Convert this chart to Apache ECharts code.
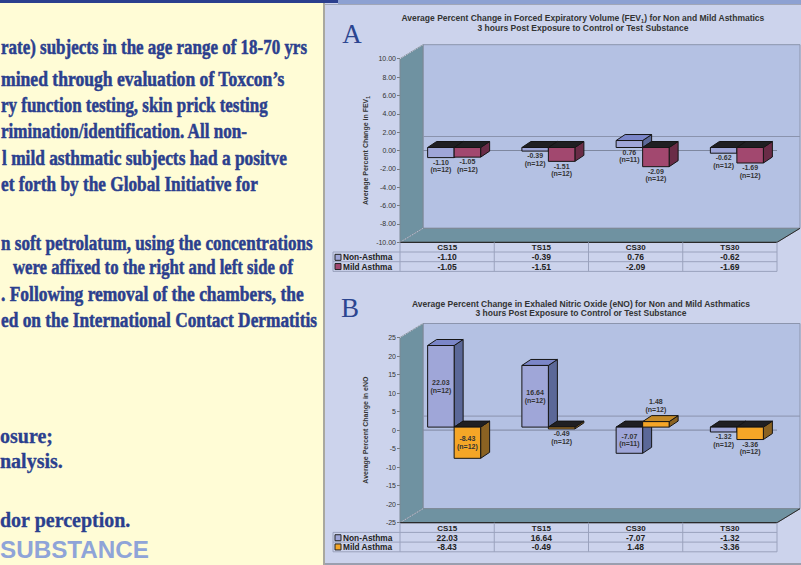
<!DOCTYPE html>
<html><head><meta charset="utf-8">
<script src="https://cdn.jsdelivr.net/npm/echarts@6/dist/echarts.min.js"></script>
<style>html,body{margin:0;padding:0;background:#fff;}#c{width:801px;height:565px;}</style>
</head><body><div id="c"></div>
<script>
// ---------------- DATA ----------------
const categories = ['CS15', 'TS15', 'CS30', 'TS30'];
const groupNames = ['Non-Asthma', 'Mild Asthma'];
const fevNonAsthma = [-1.10, -0.39, 0.76, -0.62];
const fevMildAsthma = [-1.05, -1.51, -2.09, -1.69];
const fevNonAsthmaN = [12, 12, 11, 12];
const fevMildAsthmaN = [12, 12, 12, 12];
const enoNonAsthma = [22.03, 16.64, -7.07, -1.32];
const enoMildAsthma = [-8.43, -0.49, 1.48, -3.36];
const enoNonAsthmaN = [12, 12, 11, 12];
const enoMildAsthmaN = [12, 12, 12, 12];
const fevTicks = { min: -10, max: 10, interval: 2 };
const enoTicks = { min: -25, max: 25, interval: 5 };
const fevTitle = ['Average Percent Change in Forced Expiratory Volume (FEV', '1', ') for Non and Mild Asthmatics'];
const enoTitle = 'Average Percent Change in Exhaled Nitric Oxide (eNO) for Non and Mild Asthmatics';
const subTitle = '3 hours Post Exposure to Control or Test Substance';
const fevAxisName = ['Average Percent Change in FEV', '1'];
const enoAxisName = 'Average Percent Change in eNO';
const posterLines = [
  'rate) subjects in the age range of 18-70 yrs',
  'mined through evaluation of Toxcon\u2019s',
  'ry function testing, skin prick testing',
  'rimination/identification. All non-',
  'l mild asthmatic subjects had a positve',
  'et forth by the Global Initiative for',
  'n soft petrolatum, using the concentrations',
  'were affixed to the right and left side of',
  '. Following removal of the chambers, the',
  'ed on the International Contact Dermatitis'
];
const posterLines2 = ['osure;', 'nalysis.', 'dor perception.'];
const posterHeading = 'SUBSTANCE';

// ---------------- STYLE ----------------
const SANS = "'Liberation Sans', Arial, sans-serif";
const SERIF = "'Liberation Serif', 'Times New Roman', serif";
const WALL_D = [23, -14];
const BAR_D = [9, -6];
const BAR_SHIFT = [7, -3];
const BAR_W = 26.5;
const TABLE_LEFT = 333;
const ROW_H = 9.7;
const DARK_TOP = '#1f1f22';
const COL_NON = { front: '#9fa6d8', side: '#5b6898', top: '#7b86c8' };
const COL_MILD_A = { front: '#a2486f', side: '#6a2c47', top: '#7b3552' };
const COL_MILD_B = { front: '#f5a627', side: '#8a6222', top: '#c48a27' };
const TEXT_BLUE = '#2b3f8e';
const TITLE_FS = 8.5;

const mctx = document.createElement('canvas').getContext('2d');
function measure(text, font) { mctx.font = font; return mctx.measureText(text).width; }

function frameItem(nonVals, mildVals, mildCol) {
  return function (params, api) {
    const cs = params.coordSys;
    const L = cs.x, T = cs.y, R = cs.x + cs.width, B = cs.y + cs.height;
    const dx = WALL_D[0], dy = WALL_D[1];
    const y0 = api.coord([0, 0])[1];
    const cw = cs.width / categories.length;
    const ch = [];
    ch.push({ type: 'rect', shape: { x: L + dx, y: T + dy, width: R - L, height: B - T }, style: { fill: '#b4c1e3', stroke: '#8c95ad', lineWidth: 1 } });
    ch.push({ type: 'polygon', shape: { points: [[L, T], [L + dx, T + dy], [L + dx, B + dy], [L, B]] }, style: { fill: '#6f92a1', stroke: '#7d8894', lineWidth: 1 } });
    ch.push({ type: 'polygon', shape: { points: [[L, B], [R, B], [R + dx, B + dy], [L + dx, B + dy]] }, style: { fill: '#6f92a1', stroke: '#7d8894', lineWidth: 1 } });
    ch.push({ type: 'line', shape: { x1: L, y1: T, x2: L + dx, y2: T + dy }, style: { stroke: '#d5dbea', lineWidth: 1, lineDash: [1, 1] } });
    ch.push({ type: 'line', shape: { x1: L, y1: B, x2: L + dx, y2: B + dy }, style: { stroke: '#c5cde0', lineWidth: 1, lineDash: [1, 1] } });
    ch.push({ type: 'line', shape: { x1: L + dx, y1: y0 + dy, x2: R + dx, y2: y0 + dy }, style: { stroke: '#8a93ad', lineWidth: 1 } });
    ch.push({ type: 'line', shape: { x1: L + dx, y1: y0, x2: R, y2: y0 }, style: { stroke: '#7e879f', lineWidth: 1 } });
    ch.push({ type: 'line', shape: { x1: L, y1: B, x2: R, y2: B }, style: { stroke: '#2a2a2a', lineWidth: 1.2 } });
    ch.push({ type: 'line', shape: { x1: R, y1: B, x2: R + dx, y2: B + dy }, style: { stroke: '#2a2a2a', lineWidth: 1 } });
    // data table
    const gridCol = '#9aa2bd';
    for (let r = 1; r <= 3; r++) {
      ch.push({ type: 'line', shape: { x1: TABLE_LEFT, y1: B + r * ROW_H, x2: R, y2: B + r * ROW_H }, style: { stroke: gridCol, lineWidth: 1 } });
    }
    ch.push({ type: 'line', shape: { x1: TABLE_LEFT, y1: B + ROW_H, x2: TABLE_LEFT, y2: B + 3 * ROW_H }, style: { stroke: gridCol, lineWidth: 1 } });
    for (let k = 0; k <= categories.length; k++) {
      ch.push({ type: 'line', shape: { x1: L + k * cw, y1: B, x2: L + k * cw, y2: B + 3 * ROW_H }, style: { stroke: gridCol, lineWidth: 1 } });
    }
    categories.forEach(function (c, i) {
      const cx = L + (i + 0.5) * cw;
      ch.push({ type: 'text', x: cx, y: B + ROW_H * 0.55, style: { text: c, font: 'bold 8px ' + SANS, fill: '#222', align: 'center', verticalAlign: 'middle' } });
      ch.push({ type: 'text', x: cx, y: B + ROW_H * 1.55, style: { text: nonVals[i].toFixed(2), font: 'bold 8.5px ' + SANS, fill: '#222', align: 'center', verticalAlign: 'middle' } });
      ch.push({ type: 'text', x: cx, y: B + ROW_H * 2.5, style: { text: mildVals[i].toFixed(2), font: 'bold 8.5px ' + SANS, fill: '#222', align: 'center', verticalAlign: 'middle' } });
    });
    [COL_NON, mildCol].forEach(function (col, r) {
      const yc = B + ROW_H * (1.55 + r * 0.95);
      ch.push({ type: 'rect', shape: { x: TABLE_LEFT + 2, y: yc - 3, width: 6, height: 6 }, style: { fill: col.front, stroke: '#222', lineWidth: 1 } });
      ch.push({ type: 'text', x: TABLE_LEFT + 10, y: yc, style: { text: groupNames[r], font: 'bold 8.3px ' + SANS, fill: '#222', align: 'left', verticalAlign: 'middle' } });
    });
    return { type: 'group', children: ch };
  };
}

function barItem(pos, cols, labelMode) {
  return function (params, api) {
    const ci = api.value(0), v = api.value(1), n = api.value(2);
    const pz = api.coord([ci, 0]), pv = api.coord([ci, v]);
    const x0 = pz[0] + BAR_SHIFT[0] + (pos === 0 ? -BAR_W : 0);
    const x1 = x0 + BAR_W;
    const yz = pz[1] + BAR_SHIFT[1], yv = pv[1] + BAR_SHIFT[1];
    const yt = Math.min(yz, yv), yb = Math.max(yz, yv);
    const bx = BAR_D[0], by = BAR_D[1];
    const ch = [
      { type: 'polygon', shape: { points: [[x1, yt], [x1 + bx, yt + by], [x1 + bx, yb + by], [x1, yb]] }, style: { fill: cols.side, stroke: '#151515', lineWidth: 1 } },
      { type: 'polygon', shape: { points: [[x0, yt], [x1, yt], [x1 + bx, yt + by], [x0 + bx, yt + by]] }, style: { fill: v >= 0 ? cols.top : DARK_TOP, stroke: '#151515', lineWidth: 1 } },
      { type: 'rect', shape: { x: x0, y: yt, width: BAR_W, height: yb - yt }, style: { fill: cols.front, stroke: '#151515', lineWidth: 1 } }
    ];
    let ly;
    if (labelMode === 'below') ly = yb + 8.5;
    else if (Math.abs(v) > 5) ly = (yt + yb) / 2;
    else if (v < 0) ly = yb + 8.5;
    else ly = yt - 16;
    ch.push({ type: 'text', x: (x0 + x1) / 2, y: ly, style: { text: v.toFixed(2) + '\n(n=' + n + ')', font: 'bold 7px ' + SANS, fill: '#333', align: 'center', verticalAlign: 'middle', lineHeight: 7.5 } });
    return { type: 'group', children: ch };
  };
}

function mkData(vals, ns) { return vals.map(function (v, i) { return [i, v, ns[i]]; }); }

// ---------------- POSTER GRAPHICS ----------------
const graphics = [];
graphics.push({ type: 'rect', z: -10, shape: { x: 0, y: 0, width: 801, height: 565 }, style: { fill: '#ccd3ec' } });
graphics.push({ type: 'rect', z: -10, shape: { x: 0, y: 3, width: 323, height: 562 }, style: { fill: '#fffcd6' } });
graphics.push({ type: 'rect', z: -10, shape: { x: 323, y: 3, width: 2, height: 562 }, style: { fill: '#a9a89e' } });
graphics.push({ type: 'rect', z: -10, shape: { x: 0, y: 0, width: 338, height: 3 }, style: { fill: TEXT_BLUE } });
graphics.push({ type: 'rect', z: -10, shape: { x: 338, y: 0, width: 463, height: 4 }, style: { fill: '#8da1d2' } });
graphics.push({ type: 'rect', z: -10, shape: { x: 325, y: 4, width: 476, height: 1 }, style: { fill: '#a0a6b8' } });
graphics.push({ type: 'rect', z: -10, shape: { x: 325, y: 563, width: 476, height: 2 }, style: { fill: '#9a9faf' } });

const posterLayout = [
  [1, 307, 47], [1, 285, 78.6], [1, 268, 105.3], [1, 248, 131], [2, 287, 157.6],
  [1, 258, 183.6], [1, 313, 243], [13, 293, 267.6], [1, 304, 294.3], [1, 317, 320.3]
];
const pFont = 'bold 20px ' + SERIF;
posterLines.forEach(function (t, i) {
  const lay = posterLayout[i];
  const s = (lay[1] - lay[0]) / measure(t, pFont);
  graphics.push({ type: 'text', x: lay[0], y: lay[2], scaleX: s, style: { text: t, font: pFont, fill: TEXT_BLUE, stroke: TEXT_BLUE, lineWidth: 0.5, align: 'left', verticalAlign: 'middle' } });
});
const posterLayout2 = [435.5, 460.5, 520];
posterLines2.forEach(function (t, i) {
  graphics.push({ type: 'text', x: 0, y: posterLayout2[i], style: { text: t, font: 'bold 20px ' + SERIF, fill: TEXT_BLUE, stroke: TEXT_BLUE, lineWidth: 0.3, align: 'left', verticalAlign: 'middle' } });
});
{
  const hf = 'bold 23px ' + SANS;
  const s = 149 / measure(posterHeading, hf);
  graphics.push({ type: 'text', x: 0, y: 550.3, scaleX: s, style: { text: posterHeading, font: hf, fill: '#8fa4d8', align: 'left', verticalAlign: 'middle' } });
}
graphics.push({ type: 'text', x: 352, y: 34, style: { text: 'A', font: '27px ' + SERIF, fill: '#2b4590', align: 'center', verticalAlign: 'middle' } });
graphics.push({ type: 'text', x: 350, y: 308, style: { text: 'B', font: '27px ' + SERIF, fill: '#2b4590', align: 'center', verticalAlign: 'middle' } });

const titleRich = {
  t: { fontFamily: SANS, fontSize: TITLE_FS, fontWeight: 'bold', fill: '#333', lineHeight: 11 },
  s: { fontFamily: SANS, fontSize: 5.5, fontWeight: 'bold', fill: '#333', lineHeight: 4, verticalAlign: 'bottom' }
};
graphics.push({ type: 'text', x: 583, y: 18, style: { text: '{t|' + fevTitle[0] + '}{s|' + fevTitle[1] + '}{t|' + fevTitle[2] + '}', rich: titleRich, align: 'center', verticalAlign: 'middle' } });
graphics.push({ type: 'text', x: 583, y: 27.5, style: { text: subTitle, font: 'bold ' + TITLE_FS + 'px ' + SANS, fill: '#333', align: 'center', verticalAlign: 'middle' } });
graphics.push({ type: 'text', x: 581, y: 304, style: { text: enoTitle, font: 'bold ' + TITLE_FS + 'px ' + SANS, fill: '#333', align: 'center', verticalAlign: 'middle' } });
graphics.push({ type: 'text', x: 581, y: 313, style: { text: subTitle, font: 'bold ' + TITLE_FS + 'px ' + SANS, fill: '#333', align: 'center', verticalAlign: 'middle' } });

// ---------------- CHART ----------------
function yAxisOf(gi, ticks, name, fmt) {
  return {
    gridIndex: gi, type: 'value', min: ticks.min, max: ticks.max, interval: ticks.interval,
    axisLine: { show: false }, splitLine: { show: false },
    axisTick: { show: true, length: 3, lineStyle: { color: '#7a7a7a' } },
    axisLabel: { fontFamily: SANS, fontSize: 7, color: '#333', margin: 4, formatter: fmt },
    name: name, nameLocation: 'middle', nameGap: 30, nameRotate: 90,
    nameTextStyle: {
      rich: {
        a: { fontFamily: SANS, fontSize: 7, fontWeight: 'bold', color: '#333', lineHeight: 9 },
        s: { fontFamily: SANS, fontSize: 5, fontWeight: 'bold', color: '#333', lineHeight: 4, verticalAlign: 'bottom' }
      }
    }
  };
}
function xAxisOf(gi) {
  return { gridIndex: gi, type: 'category', data: categories, axisLine: { show: false }, axisTick: { show: false }, axisLabel: { show: false } };
}

const chart = echarts.init(document.getElementById('c'), null, { renderer: 'svg', width: 801, height: 565 });
chart.setOption({
  animation: false,
  graphic: graphics,
  grid: [
    { left: 400, top: 58.7, width: 377, height: 183.6 },
    { left: 400, top: 337.5, width: 377, height: 185.2 }
  ],
  xAxis: [xAxisOf(0), xAxisOf(1)],
  yAxis: [
    yAxisOf(0, fevTicks, '{a|' + fevAxisName[0] + '}{s|' + fevAxisName[1] + '}', function (v) { return v.toFixed(2); }),
    yAxisOf(1, enoTicks, '{a|' + enoAxisName + '}', function (v) { return String(v); })
  ],
  series: [
    { type: 'custom', name: 'frameA', xAxisIndex: 0, yAxisIndex: 0, z: 1, clip: false, silent: true, data: [[0, 0]], encode: { x: 0, y: 1 }, renderItem: frameItem(fevNonAsthma, fevMildAsthma, COL_MILD_A) },
    { type: 'custom', name: groupNames[0], xAxisIndex: 0, yAxisIndex: 0, z: 2, clip: false, data: mkData(fevNonAsthma, fevNonAsthmaN), encode: { x: 0, y: 1 }, renderItem: barItem(0, COL_NON, 'below') },
    { type: 'custom', name: groupNames[1], xAxisIndex: 0, yAxisIndex: 0, z: 3, clip: false, data: mkData(fevMildAsthma, fevMildAsthmaN), encode: { x: 0, y: 1 }, renderItem: barItem(1, COL_MILD_A, 'below') },
    { type: 'custom', name: 'frameB', xAxisIndex: 1, yAxisIndex: 1, z: 1, clip: false, silent: true, data: [[0, 0]], encode: { x: 0, y: 1 }, renderItem: frameItem(enoNonAsthma, enoMildAsthma, COL_MILD_B) },
    { type: 'custom', name: groupNames[0], xAxisIndex: 1, yAxisIndex: 1, z: 2, clip: false, data: mkData(enoNonAsthma, enoNonAsthmaN), encode: { x: 0, y: 1 }, renderItem: barItem(0, COL_NON, 'auto') },
    { type: 'custom', name: groupNames[1], xAxisIndex: 1, yAxisIndex: 1, z: 3, clip: false, data: mkData(enoMildAsthma, enoMildAsthmaN), encode: { x: 0, y: 1 }, renderItem: barItem(1, COL_MILD_B, 'auto') }
  ]
});
</script></body></html>
